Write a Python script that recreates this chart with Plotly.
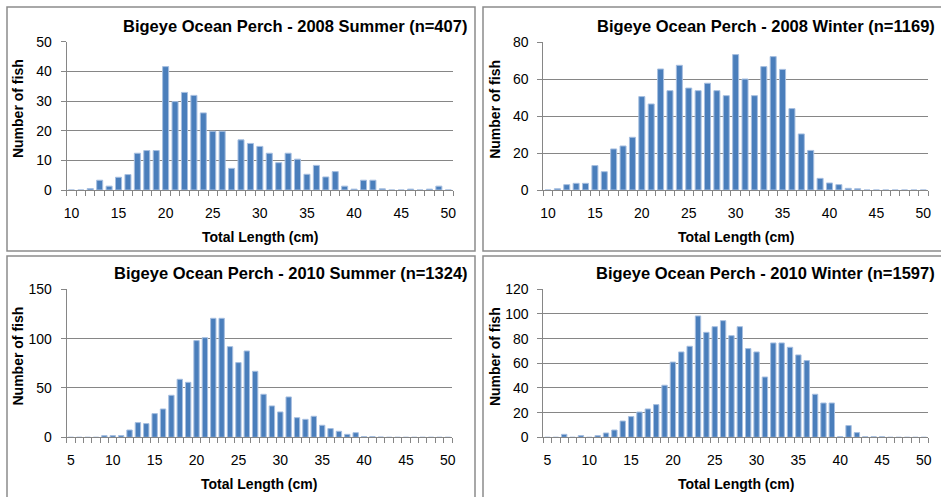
import plotly.graph_objects as go

# ---- data ----
s2008_len = list(range(10, 51))
s2008_cnt = [0, 0, 0.5, 3.3, 1.3, 4.3, 5.2, 12.4, 13.3, 13.3,
             41.6, 29.8, 32.9, 31.9, 26.0, 19.8, 19.8, 7.3, 16.9, 15.7,
             14.7, 12.4, 9.2, 12.4, 10.4, 5.3, 8.3, 4.4, 6.2, 1.3,
             0.3, 3.3, 3.3, 0.4, 0, 0, 0.3, 0, 0.3, 1.3, 0]

w2008_len = list(range(10, 51))
w2008_cnt = [0, 0.7, 2.9, 3.6, 3.6, 13.2, 9.9, 22.2, 23.8, 28.5,
             50.5, 46.5, 65.4, 53.7, 67.4, 55.1, 53.7, 57.7, 53.7, 51.0,
             73.2, 60.0, 51.0, 66.7, 72.1, 65.2, 44.0, 30.3, 21.4, 6.3,
             3.8, 2.9, 0.9, 0.7, 0, 0, 0, 0, 0, 0, 0]

s2010_len = list(range(5, 51))
s2010_cnt = [0, 0, 0, 0, 1.7, 1.7, 1.7, 7.4, 14.9, 13.9,
             24.0, 28.7, 42.6, 58.8, 55.7, 98.0, 101.0, 120.6, 120.6, 91.9,
             75.7, 87.5, 66.9, 43.6, 31.8, 25.7, 40.9, 19.9, 18.2, 21.3,
             12.2, 8.8, 6.1, 3.0, 4.7, 0.7, 0.7, 0.3, 0, 0,
             0, 0, 0, 0, 0, 0]

w2010_len = list(range(5, 51))
w2010_cnt = [0, 0, 2.4, 0, 1.4, 0, 1.4, 3.5, 5.9, 13.2,
             16.8, 20.5, 23.0, 26.5, 42.2, 61.0, 69.2, 73.8, 98.4, 85.1,
             89.7, 94.6, 82.4, 89.7, 71.9, 69.2, 48.9, 76.5, 76.5, 73.0,
             66.8, 62.2, 34.9, 27.8, 27.8, 0.5, 9.5, 3.8, 0.5, 0.5,
             0.5, 0, 0, 0, 0, 0]

titles = ["Bigeye Ocean Perch - 2008 Summer (n=407)",
          "Bigeye Ocean Perch - 2008 Winter (n=1169)",
          "Bigeye Ocean Perch - 2010 Summer (n=1324)",
          "Bigeye Ocean Perch - 2010 Winter (n=1597)"]
y_max = [50, 80, 150, 120]
y_step = [10, 20, 50, 20]
x_ticks_a = [10, 15, 20, 25, 30, 35, 40, 45, 50]
x_ticks_b = [5, 10, 15, 20, 25, 30, 35, 40, 45, 50]

W, H = 941, 497
FONT = "Liberation Sans, Arial, sans-serif"

# plot area boxes in pixels: (left, top, right, bottom)
boxes = [(66.7, 41.7, 453, 190), (543.3, 42, 928, 190),
         (66.7, 289.3, 452, 437.3), (543.3, 289.3, 928, 437.3)]
frames = [(7, 7, 475, 251), (483, 7, 946, 251), (7, 256, 475, 502), (483, 256, 946, 502)]
title_pos = [(469, 26), (937, 26), (470, 273), (937, 273)]

datasets = [(s2008_len, s2008_cnt, x_ticks_a), (w2008_len, w2008_cnt, x_ticks_a),
            (s2010_len, s2010_cnt, x_ticks_b), (w2010_len, w2010_cnt, x_ticks_b)]

fig = go.Figure()
annotations = []
shapes = []

def px(x):
    return x / W

def py(y):
    return 1 - y / H

for i, ((xs, ys, xt), box, fr, tp) in enumerate(zip(datasets, boxes, frames, title_pos)):
    n = i + 1
    xa = "x" if n == 1 else f"x{n}"
    ya = "y" if n == 1 else f"y{n}"
    fig.add_trace(go.Bar(x=xs, y=ys, xaxis=xa, yaxis=ya,
                         marker=dict(color="#4a7ebb", line=dict(color="#a7bfe0", width=1)),
                         showlegend=False, hoverinfo="x+y"))
    l, t, r, b = box
    xkey = "xaxis" if n == 1 else f"xaxis{n}"
    ykey = "yaxis" if n == 1 else f"yaxis{n}"
    fig.layout[xkey] = dict(
        domain=[px(l), px(r)], anchor=ya, range=[xs[0] - 0.5, xs[-1] + 0.5],
        tickmode="array", tickvals=xt, ticks="", showgrid=False,
        showline=True, linecolor="#868686", linewidth=1, automargin=False,
        tickfont=dict(family=FONT, size=14, color="#000000"),
        ticklabelstandoff=10,
        minor=dict(ticks="outside", tick0=xs[0] - 0.5, dtick=1, ticklen=5,
                   tickcolor="#868686", tickwidth=1, showgrid=False),
        fixedrange=True)
    fig.layout[ykey] = dict(
        domain=[py(b), py(t)], anchor=xa, range=[0, y_max[i]],
        tickmode="linear", tick0=0, dtick=y_step[i],
        ticks="outside", ticklen=5, tickcolor="#868686",
        showgrid=True, gridcolor="#868686", gridwidth=1,
        showline=True, linecolor="#868686", linewidth=1, zeroline=False,
        automargin=False,
        tickfont=dict(family=FONT, size=14, color="#000000"),
        ticklabelstandoff=6, fixedrange=True)
    # frame
    shapes.append(dict(type="rect", xref="paper", yref="paper",
                       x0=px(fr[0]), x1=px(fr[2]), y0=py(fr[3]), y1=py(fr[1]),
                       line=dict(color="#8c8c8c", width=1.5), fillcolor="rgba(0,0,0,0)"))
    # title
    annotations.append(dict(text=f"<b>{titles[i]}</b>", xref="paper", yref="paper",
                            x=px(tp[0]), y=py(tp[1]), xanchor="right", yanchor="middle",
                            showarrow=False, font=dict(family=FONT, size=16.5, color="#000000")))
    # x axis title
    annotations.append(dict(text="<b>Total Length (cm)</b>", xref="paper", yref="paper",
                            x=px((l + r) / 2), y=py(b + 47), xanchor="center", yanchor="middle",
                            showarrow=False, font=dict(family=FONT, size=14, color="#000000")))
    # y axis title
    annotations.append(dict(text="<b>Number of fish</b>", xref="paper", yref="paper",
                            x=px(l - 48.5), y=py((t + b) / 2 - 7), xanchor="center", yanchor="middle",
                            textangle=-90, showarrow=False,
                            font=dict(family=FONT, size=14, color="#000000")))

fig.update_layout(width=W, height=H, margin=dict(l=0, r=0, t=0, b=0),
                  paper_bgcolor="white", plot_bgcolor="white",
                  bargap=0.36, annotations=annotations, shapes=shapes)

fig.write_html("out.html")
